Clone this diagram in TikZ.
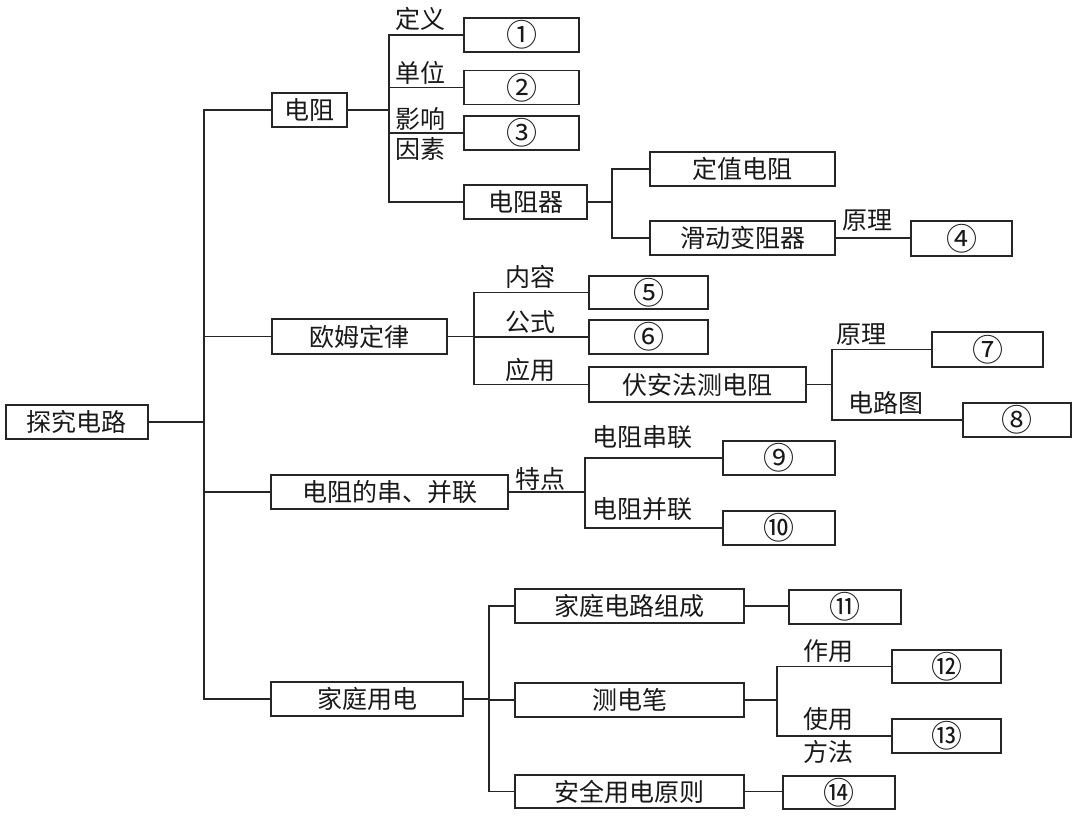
\documentclass[tikz,border=0pt]{standalone}
\usepackage{fontspec}
\newfontfamily\cjk{Noto Sans CJK SC}
\tikzset{
  ink/.style={draw=black!85},
  bx/.style={ink, line width=1.4pt, rectangle, inner sep=0pt, minimum height=34pt,
    font=\cjk\fontsize{25}{25}\selectfont, text=black!90},
  num/.style={bx, font=\cjk\fontsize{31}{31}\selectfont},
  lbl/.style={inner sep=0pt, anchor=west, font=\cjk\fontsize{25}{25}\selectfont, text=black!90},
  ln/.style={ink, line width=1.4pt, line cap=rect},
}
\begin{document}
\begin{tikzpicture}[x=1pt,y=-1pt]
\useasboundingbox[fill=white] (0,0) rectangle (1092,823);
% boxes
\node[bx, minimum width=142pt] (root) at (77,422) {探究电路};
\node[bx, minimum width=75pt]  (r1) at (309.5,110) {电阻};
\node[bx, minimum width=175pt, minimum height=35pt] (r2) at (359.5,336.5) {欧姆定律};
\node[bx, minimum width=237pt] (r3) at (389.5,492) {电阻的串、并联};
\node[bx, minimum width=192pt] (r4) at (367,699) {家庭用电};
\node[num, minimum width=115pt] (a1) at (521.5,35) {①};
\node[num, minimum width=115pt] (a2) at (521.5,87.5) {②};
\node[num, minimum width=115pt] (a3) at (521.5,133) {③};
\node[bx, minimum width=123pt] (a4) at (525.5,202) {电阻器};
\node[bx, minimum width=185pt] (b1) at (742.5,169) {定值电阻};
\node[bx, minimum width=185pt] (b2) at (742.5,238) {滑动变阻器};
\node[num, minimum width=101pt, minimum height=35pt] (b3) at (961.5,238.5) {④};
\node[num, minimum width=119pt, minimum height=33pt] (c1) at (648.5,292.5) {⑤};
\node[num, minimum width=119pt] (c2) at (648.5,337) {⑥};
\node[bx, minimum width=217pt, minimum height=35pt] (c3) at (697.5,384.5) {伏安法测电阻};
\node[num, minimum width=111pt, minimum height=35pt] (d1) at (987.5,349.5) {⑦};
\node[num, minimum width=108pt] (d2) at (1017,420) {⑧};
\node[num, minimum width=112pt] (e1) at (779,458) {⑨};
\node[num, minimum width=112pt] (e2) at (779,528) {⑩};
\node[bx, minimum width=229pt] (f1) at (629.5,606) {家庭电路组成};
\node[bx, minimum width=229pt] (f2) at (629.5,700) {测电笔};
\node[bx, minimum width=229pt, minimum height=33pt] (f3) at (629.5,791.5) {安全用电原则};
\node[num, minimum width=112pt] (g1) at (845,607) {⑪};
\node[num, minimum width=109pt, minimum height=33pt] (g2) at (946.5,666.5) {⑫};
\node[num, minimum width=109pt] (g3) at (946.5,736) {⑬};
\node[num, minimum width=112pt, minimum height=33pt] (g4) at (839,792.5) {⑭};
% junction columns
\coordinate (j0) at (204,0);
\coordinate (j1) at (389,0);
\coordinate (j2) at (612,0);
\coordinate (j3) at (474,0);
\coordinate (j4) at (832,0);
\coordinate (j5) at (585,0);
\coordinate (j6) at (489,0);
\coordinate (j7) at (777,0);
% connectors
\draw[ln] (root.east) -- (j0 |- root.east);
\draw[ln] (j0 |- r1.west) -- (j0 |- r4.west);
\foreach \n in {r1,r2,r3,r4} \draw[ln] (j0 |- \n.west) -- (\n.west);
\draw[ln] (r1.east) -- (j1 |- r1.east);
\draw[ln] (j1 |- a1.west) -- (j1 |- a4.west);
\foreach \n in {a1,a2,a3,a4} \draw[ln] (j1 |- \n.west) -- (\n.west);
\draw[ln] (a4.east) -- (j2 |- a4.east);
\draw[ln] (j2 |- b1.west) -- (j2 |- b2.west);
\foreach \n in {b1,b2} \draw[ln] (j2 |- \n.west) -- (\n.west);
\draw[ln] (b2.east) -- (b2.east -| b3.west);
\draw[ln] (r2.east) -- (j3 |- r2.east);
\draw[ln] (j3 |- c1.west) -- (j3 |- c3.west);
\foreach \n in {c1,c2,c3} \draw[ln] (j3 |- \n.west) -- (\n.west);
\draw[ln] (c3.east) -- (j4 |- c3.east);
\draw[ln] (j4 |- d1.west) -- (j4 |- d2.west);
\foreach \n in {d1,d2} \draw[ln] (j4 |- \n.west) -- (\n.west);
\draw[ln] (r3.east) -- (j5 |- r3.east);
\draw[ln] (j5 |- e1.west) -- (j5 |- e2.west);
\foreach \n in {e1,e2} \draw[ln] (j5 |- \n.west) -- (\n.west);
\draw[ln] (r4.east) -- (j6 |- r4.east);
\draw[ln] (j6 |- f1.west) -- (j6 |- f3.west);
\foreach \n in {f1,f2,f3} \draw[ln] (j6 |- \n.west) -- (\n.west);
\draw[ln] (f1.east) -- (f1.east -| g1.west);
\draw[ln] (f2.east) -- (j7 |- f2.east);
\draw[ln] (j7 |- g2.west) -- (j7 |- g3.west);
\foreach \n in {g2,g3} \draw[ln] (j7 |- \n.west) -- (\n.west);
\draw[ln] (f3.east) -- (f3.east -| g4.west);
% labels
\node[lbl] (la1) at (395,19) {定义};
\node[lbl] (la2) at (395,73) {单位};
\node[lbl] (la3) at (395,119) {影响};
\node[lbl] (la4) at (395,149) {因素};
\node[lbl] (lb1) at (842,221) {原理};
\node[lbl] (lc1) at (505,277) {内容};
\node[lbl] (lc2) at (505,322) {公式};
\node[lbl] (lc3) at (505,370) {应用};
\node[lbl] (ld1) at (836,335) {原理};
\node[lbl] (ld2) at (848,403) {电路图};
\node[lbl] (le0) at (515,479) {特点};
\node[lbl] (le1) at (592,437) {电阻串联};
\node[lbl] (le2) at (592,509) {电阻并联};
\node[lbl] (lg1) at (803,651) {作用};
\node[lbl] (lg2) at (803,719) {使用};
\node[lbl] (lg3) at (803,752) {方法};
\end{tikzpicture}
\end{document}
